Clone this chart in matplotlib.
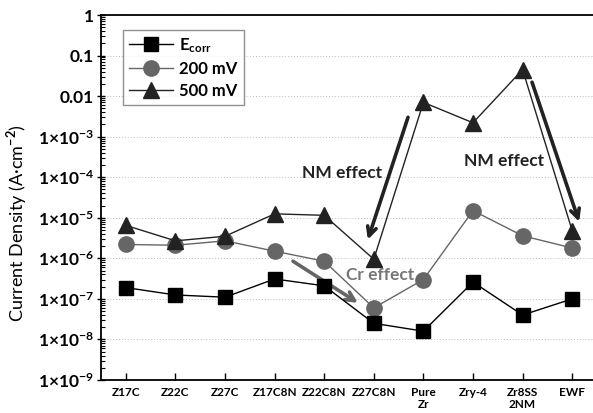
import numpy as np
import matplotlib
matplotlib.use("Agg")
import matplotlib.pyplot as plt
from matplotlib.ticker import FixedLocator, LogLocator, NullFormatter

plt.rcParams['font.family'] = ['Lato', 'DejaVu Sans']
plt.rcParams['font.weight'] = 'bold'
plt.rcParams['mathtext.fontset'] = 'custom'
plt.rcParams['mathtext.rm'] = 'Lato:bold'
plt.rcParams['mathtext.bf'] = 'Lato:bold'
plt.rcParams['mathtext.it'] = 'Lato:bold'
plt.rcParams['mathtext.default'] = 'bf'

samples = ["Z17C", "Z22C", "Z27C", "Z17C8N", "Z22C8N", "Z27C8N",
           "Pure\nZr", "Zry-4", "Zr8SS\n2NM", "EWF"]
ecorr = [1.9e-7, 1.25e-7, 1.1e-7, 3.1e-7, 2.1e-7, 2.5e-8, 1.6e-8, 2.6e-7, 4.0e-8, 1.0e-7]
mv200 = [2.2e-6, 2.1e-6, 2.7e-6, 1.5e-6, 8.5e-7, 6.0e-8, 3.0e-7, 1.5e-5, 3.6e-6, 1.8e-6]
mv500 = [6.5e-6, 2.7e-6, 3.5e-6, 1.25e-5, 1.15e-5, 9.5e-7, 7.0e-3, 2.2e-3, 4.5e-2, 4.8e-6]

ytick_vals = [1e-9, 1e-8, 1e-7, 1e-6, 1e-5, 1e-4, 1e-3, 1e-2, 1e-1, 1]
ytick_labels = [r"1×10$^{-9}$", r"1×10$^{-8}$", r"1×10$^{-7}$", r"1×10$^{-6}$",
                r"1×10$^{-5}$", r"1×10$^{-4}$", r"1×10$^{-3}$", "0.01", "0.1", "1"]

fig = plt.figure(figsize=(5.93, 4.13), dpi=100)
ax = fig.add_axes([101 / 593, 33 / 413, 496 / 593, 365 / 413])
x = np.arange(len(samples))

ax.plot(x, ecorr, color="black", lw=1.0, marker="s", ms=10, mfc="black",
        mec="black", label=r"E$_{\mathregular{corr}}$", zorder=4)
ax.plot(x, mv200, color="#666666", lw=1.0, marker="o", ms=11, mfc="#666666",
        mec="#666666", label="200 mV", zorder=3)
ax.plot(x, mv500, color="#222222", lw=1.0, marker="^", ms=11, mfc="#222222",
        mec="#222222", label="500 mV", zorder=3)

ax.set_yscale("log")
ax.set_ylim(1e-9, 1)
ax.set_xlim(-0.5, 9.5)
ax.set_yticks(ytick_vals)
ax.set_yticklabels(ytick_labels, fontsize=12.5)
ax.yaxis.set_minor_locator(LogLocator(base=10, subs=np.arange(2, 10)))
ax.yaxis.set_minor_formatter(NullFormatter())
ax.set_xticks(x)
ax.set_xticklabels(samples, fontsize=8.5, linespacing=1.1)
ax.tick_params(axis="y", which="major", direction="inout", length=6, width=1, pad=2)
ax.tick_params(axis="y", which="minor", direction="in", length=3, width=0.8)
ax.tick_params(axis="x", direction="in", length=5, width=1, pad=5)
ax.grid(axis="y", which="major", color="#bbbbbb", ls=(0, (1, 2)), lw=0.7)
ax.spines["right"].set_visible(False)
for s in ["left", "top", "bottom"]:
    ax.spines[s].set_linewidth(1.3)

ax.set_ylabel(r"Current Density (A·cm$^{-2}$)", fontsize=13, fontweight="normal")
ax.yaxis.set_label_coords(-0.145, 0.43)

# annotations
arrow_kw = dict(arrowstyle="->", lw=2.6, mutation_scale=16, shrinkA=0, shrinkB=0)
ax.annotate("", xy=(4.88, 2.9e-6), xytext=(5.69, 3e-3),
            arrowprops=dict(color="#222222", **arrow_kw))
ax.annotate("", xy=(9.14, 8e-6), xytext=(8.19, 2.2e-2),
            arrowprops=dict(color="#222222", **arrow_kw))
ax.annotate("", xy=(4.68, 8e-8), xytext=(3.37, 8.5e-7),
            arrowprops=dict(color="#666666", **arrow_kw))
ax.text(4.36, 1.3e-4, "NM effect", fontsize=12.5, color="#222222", ha="center",
        va="center")
ax.text(7.62, 2.5e-4, "NM effect", fontsize=12.5, color="#222222", ha="center",
        va="center")
ax.text(5.13, 3.8e-7, "Cr effect", fontsize=12.5, color="#777777", ha="center",
        va="center")

leg = ax.legend(loc="upper left", bbox_to_anchor=(0.044, 0.96), fontsize=12,
                frameon=True, fancybox=False, edgecolor="#777777",
                handlelength=2.6, handletextpad=0.4, borderpad=0.4,
                labelspacing=0.35, borderaxespad=0)
leg.get_frame().set_linewidth(1.0)

fig.savefig("out.png", dpi=100)
